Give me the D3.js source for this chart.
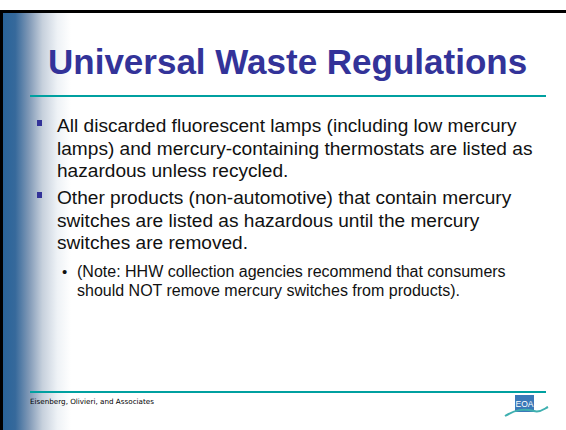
<!DOCTYPE html>
<html>
<head>
<meta charset="utf-8">
<script src="https://cdn.jsdelivr.net/npm/d3@7"></script>
<style>
  body { margin: 0; background: #fff; }
  svg { display: block; }
</style>
</head>
<body>
<div class="slide"></div>
<script>
var svgWidth = 566;
var svgHeight = 430;

// slide text
var titleText = "Universal Waste Regulations";
var bulletLines = [
  ["All discarded fluorescent lamps (including low mercury",
   "lamps) and mercury-containing thermostats are listed as",
   "hazardous unless recycled."],
  ["Other products (non-automotive) that contain mercury",
   "switches are listed as hazardous until the mercury",
   "switches are removed."]
];
var subLines = [
  "(Note: HHW collection agencies recommend that consumers",
  "should NOT remove mercury switches from products)."
];
var footerText = "Eisenberg, Olivieri, and Associates";

var svg = d3.select(".slide")
  .append("svg")
  .attr("width", svgWidth)
  .attr("height", svgHeight);

var defs = svg.append("defs");
var grad = defs.append("linearGradient")
  .attr("id", "sideGrad")
  .attr("x1", "0%").attr("x2", "100%")
  .attr("y1", "0%").attr("y2", "0%");
grad.append("stop").attr("offset", "0%").attr("stop-color", "#29649a");
grad.append("stop").attr("offset", "18%").attr("stop-color", "#36699b");
grad.append("stop").attr("offset", "38%").attr("stop-color", "#7f98b6");
grad.append("stop").attr("offset", "58%").attr("stop-color", "#c6d0dc");
grad.append("stop").attr("offset", "80%").attr("stop-color", "#eef2f6");
grad.append("stop").attr("offset", "100%").attr("stop-color", "#ffffff");

// slide background
svg.append("rect")
  .attr("x", 0).attr("y", 10)
  .attr("width", svgWidth).attr("height", svgHeight - 10)
  .attr("fill", "#fff");

// left gradient band
svg.append("rect")
  .attr("x", 3).attr("y", 13)
  .attr("width", 68).attr("height", svgHeight - 13)
  .attr("fill", "url(#sideGrad)");

// black frame (top and left)
svg.append("rect")
  .attr("x", 0).attr("y", 10)
  .attr("width", svgWidth).attr("height", 3)
  .attr("fill", "#000");
svg.append("rect")
  .attr("x", 0).attr("y", 10)
  .attr("width", 3).attr("height", svgHeight - 10)
  .attr("fill", "#000");

// title
svg.append("text")
  .attr("x", 48)
  .attr("y", 74)
  .attr("font-family", "Liberation Sans, Arial, sans-serif")
  .attr("font-weight", "bold")
  .attr("font-size", "35px")
  .attr("fill", "#333399")
  .text(titleText);

// teal rules
svg.append("line")
  .attr("x1", 30).attr("x2", 546)
  .attr("y1", 96).attr("y2", 96)
  .attr("stroke", "#00a0a0")
  .attr("stroke-width", 2);
svg.append("line")
  .attr("x1", 30).attr("x2", 546)
  .attr("y1", 392).attr("y2", 392)
  .attr("stroke", "#00a0a0")
  .attr("stroke-width", 2);

// bullets
var lineH = 22.5;
var blockY = [132, 204];
bulletLines.forEach(function(lines, i) {
  svg.append("rect")
    .attr("x", 37).attr("y", blockY[i] - 12)
    .attr("width", 5).attr("height", 6)
    .attr("fill", "#333399");
  lines.forEach(function(t, j) {
    svg.append("text")
      .attr("x", 57)
      .attr("y", blockY[i] + j * lineH)
      .attr("font-family", "Liberation Sans, Arial, sans-serif")
      .attr("font-size", "19.1px")
      .attr("fill", "#111")
      .text(t);
  });
});

// sub bullet
var subY = 277;
svg.append("text")
  .attr("x", 62).attr("y", subY)
  .attr("font-family", "Liberation Sans, Arial, sans-serif")
  .attr("font-size", "15px")
  .attr("fill", "#111")
  .text("\u2022");
subLines.forEach(function(t, j) {
  svg.append("text")
    .attr("x", 77)
    .attr("y", subY + j * 19)
    .attr("font-family", "Liberation Sans, Arial, sans-serif")
    .attr("font-size", "16px")
    .attr("fill", "#111")
    .text(t);
});

// footer
svg.append("text")
  .attr("x", 30).attr("y", 404)
  .attr("font-family", "DejaVu Sans, sans-serif")
  .attr("font-size", "7.2px")
  .attr("fill", "#000")
  .attr("text-rendering", "geometricPrecision")
  .text(footerText);

// logo
var logo = svg.append("g").attr("transform", "translate(515, 395)");
logo.append("rect")
  .attr("width", 19).attr("height", 17)
  .attr("fill", "#3b78b8");
logo.append("text")
  .attr("x", 9.5).attr("y", 11.5)
  .attr("text-anchor", "middle")
  .attr("font-family", "Liberation Sans, Arial, sans-serif")
  .attr("font-size", "8.5px")
  .attr("fill", "#fff")
  .text("EOA");
logo.append("path")
  .attr("d", "M-10,21 C0,15 8,13 19,16 C25,18 29,14 33,12")
  .attr("fill", "none")
  .attr("stroke", "#3fb0b0")
  .attr("stroke-width", 2);
</script>
</body>
</html>
